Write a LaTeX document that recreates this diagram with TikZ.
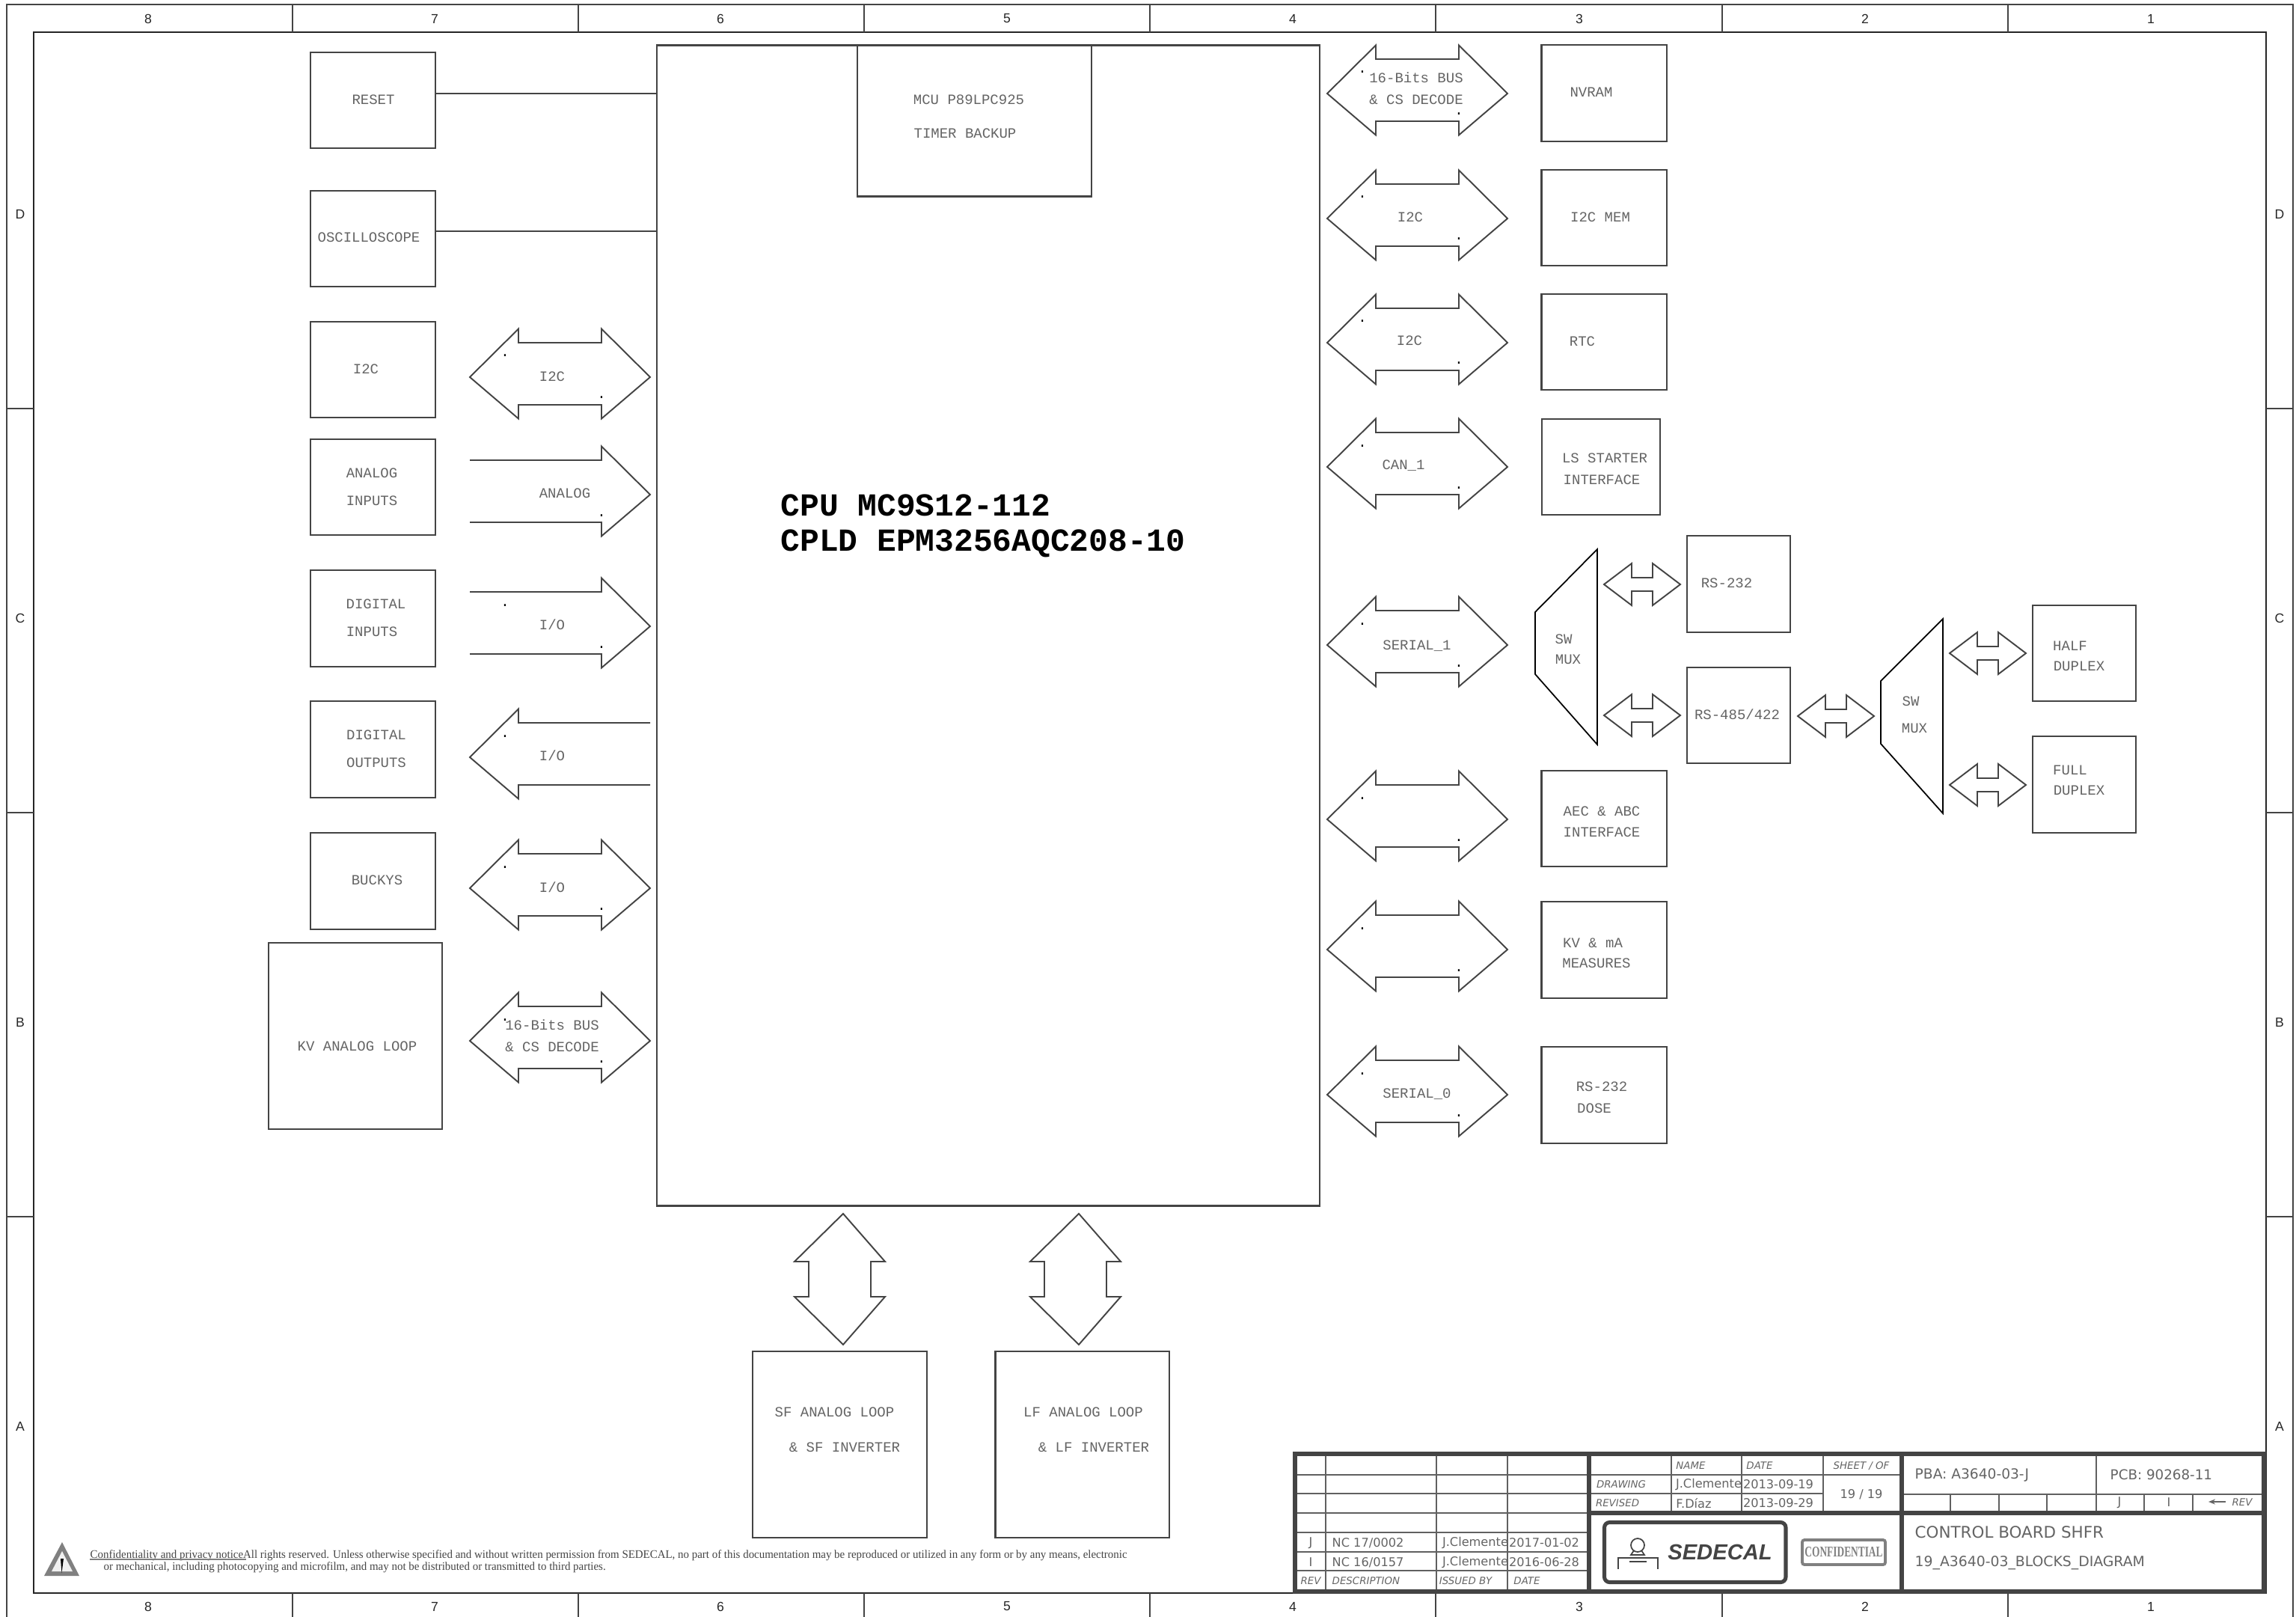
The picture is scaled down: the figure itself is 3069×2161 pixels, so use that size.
\documentclass[tikz,border=0pt]{standalone}
\usepackage{fontspec}
\setmainfont{Liberation Mono}
\newfontfamily\sheetfont{DejaVu Sans}
\newfontfamily\rimfont{Liberation Sans}
\newfontfamily\noticefont[FakeStretch=0.965]{Liberation Serif}
\newfontfamily\stampfont[FakeStretch=0.68]{Liberation Serif}
\usetikzlibrary{arrows.meta,positioning}
\definecolor{inkgray}{HTML}{444444}
\definecolor{txtgray}{HTML}{646464}
\definecolor{stampgray}{HTML}{808080}

% double arrows: name, centre x, centre y
\newcommand{\wideway}[3]{\coordinate (#1) at (#2,#3);
  \draw[busline] (#1) ++(-120.5,0) -- ++(65,-64.5) -- ++(0,18.5) -- ++(111,0) -- ++(0,-18.5) -- ++(65,64.5) -- ++(-65,55.5) -- ++(0,-18.5) -- ++(-111,0) -- ++(0,18.5) -- cycle;}
\newcommand{\smallway}[3]{\coordinate (#1) at (#2,#3);
  \draw[busline] (#1) ++(-51,0) -- ++(37,-28) -- ++(0,19) -- ++(28,0) -- ++(0,-19) -- ++(37,28) -- ++(-37,28) -- ++(0,-19) -- ++(-28,0) -- ++(0,19) -- cycle;}
\newcommand{\tallway}[3]{\coordinate (#1) at (#2,#3);
  \draw[busline] (#1) ++(0,-88) -- ++(56,64) -- ++(-19,0) -- ++(0,47) -- ++(19,0) -- ++(-56,64) -- ++(-65,-64) -- ++(19,0) -- ++(0,-47) -- ++(-19,0) -- cycle;}
% the two stray points inside a wide arrow
\newcommand{\updot}[1]{\node[strayd] (#1-u) at ([shift={(-73.5,-27)}]#1) {.};}
\newcommand{\downdot}[1]{\node[strayd] (#1-d) at ([shift={(55.5,29)}]#1) {.};}

\begin{document}
\begin{tikzpicture}[x=0.01cm, y=-0.01cm,
  blockbox/.style={draw=inkgray, line width=0.6pt, inner sep=0pt, minimum width=1.67cm, minimum height=1.285cm},
  loopbox/.style={blockbox, minimum width=2.32cm, minimum height=2.49cm},
  commbox/.style={blockbox, minimum width=1.38cm},
  busline/.style={draw=inkgray, line width=0.55pt, line join=miter},
  muxline/.style={draw=black, line width=0.5pt},
  wire/.style={draw=inkgray, line width=0.55pt},
  lbl/.style={text=txtgray, inner sep=0pt, font=\fontsize{5.4}{6}\selectfont},
  strayd/.style={text=black, inner sep=0pt, anchor=base, font=\fontsize{5.4}{6}\selectfont},
  cpulbl/.style={text=black, inner sep=0pt, anchor=west, font=\fontsize{12.2}{14}\selectfont\bfseries},
  rimtxt/.style={text=black!85, inner sep=0pt, font=\rimfont\fontsize{5}{5}\selectfont},
  thick block/.style={draw=inkgray, line width=1.55pt},
  thin block/.style={draw=inkgray!85, line width=0.65pt},
  sheettxt/.style={text=txtgray, inner sep=0pt, font=\sheetfont\fontsize{4.6}{5}\selectfont},
  sheetitl/.style={text=txtgray, inner sep=0pt, font=\sheetfont\itshape\fontsize{3.8}{5}\selectfont},
  notice/.style={text=inkgray, inner sep=0pt, anchor=base west, font=\noticefont\fontsize{4.4}{5}\selectfont}]
  \useasboundingbox (0,0) rectangle (3069,2161);

  % sheet frame and rim marks
  \draw[draw=inkgray, line width=0.55pt] (9,2161) -- (9,6) -- (3065,6) -- (3065,2161);
  \draw[draw=black!85, line width=0.55pt] (45,43) rectangle (3029,2129);
  \draw[wire] (391,6) -- (391,43); \draw[wire] (773,6) -- (773,43); \draw[wire] (1155,6) -- (1155,43); \draw[wire] (1537,6) -- (1537,43);
  \draw[wire] (1919,6) -- (1919,43); \draw[wire] (2302,6) -- (2302,43); \draw[wire] (2684,6) -- (2684,43);
  \draw[wire] (391,2129) -- (391,2161); \draw[wire] (773,2129) -- (773,2161); \draw[wire] (1155,2129) -- (1155,2161); \draw[wire] (1537,2129) -- (1537,2161);
  \draw[wire] (1919,2129) -- (1919,2161); \draw[wire] (2302,2129) -- (2302,2161); \draw[wire] (2684,2129) -- (2684,2161);
  \draw[wire] (9,546) -- (45,546); \draw[wire] (9,1086) -- (45,1086); \draw[wire] (9,1626) -- (45,1626);
  \draw[wire] (3029,546) -- (3065,546); \draw[wire] (3029,1086) -- (3065,1086); \draw[wire] (3029,1626) -- (3065,1626);
  \node[rimtxt] (top8) at (198,25) {8}; \node[rimtxt] (top7) at (581,25) {7}; \node[rimtxt] (top6) at (963,25) {6}; \node[rimtxt] (top5) at (1346,25) {5};
  \node[rimtxt] (top4) at (1728,25) {4}; \node[rimtxt] (top3) at (2111,25) {3}; \node[rimtxt] (top2) at (2493,25) {2}; \node[rimtxt] (top1) at (2875,25) {1};
  \node[rimtxt] (bot8) at (198,2147) {8}; \node[rimtxt] (bot7) at (581,2147) {7}; \node[rimtxt] (bot6) at (963,2147) {6}; \node[rimtxt] (bot5) at (1346,2147) {5};
  \node[rimtxt] (bot4) at (1728,2147) {4}; \node[rimtxt] (bot3) at (2111,2147) {3}; \node[rimtxt] (bot2) at (2493,2147) {2}; \node[rimtxt] (bot1) at (2875,2147) {1};
  \node[rimtxt] (leftd) at (27,286) {D}; \node[rimtxt] (leftc) at (27,826) {C}; \node[rimtxt] (leftb) at (27,1366) {B}; \node[rimtxt] (lefta) at (27,1906) {A};
  \node[rimtxt] (rightd) at (3047,286) {D}; \node[rimtxt] (rightc) at (3047,826) {C}; \node[rimtxt] (rightb) at (3047,1366) {B}; \node[rimtxt] (righta) at (3047,1906) {A};

  % CPU and MCU
  \node[blockbox, minimum width=8.86cm, minimum height=15.5cm] (cpu) at (1321,836) {};
  \node[blockbox, minimum width=3.13cm, minimum height=2.01cm] (mcu) at (1302.5,162) {};
  \node[lbl] (mcua) at (1295,133) {MCU P89LPC925};
  \node[lbl] (mcub) at (1290,178) {TIMER BACKUP};
  \node[cpulbl] (cpua) at (1043,675) {CPU MC9S12-112};
  \node[cpulbl] (cpub) at (1043,726) {CPLD EPM3256AQC208-10};

  % left column
  \node[blockbox] (reset) at (498.5,134) {}; \node[lbl] (resetl) at (499,133) {RESET};
  \node[blockbox] (scope) at (498.5,319) {}; \node[lbl] (scopel) at (493,317) {OSCILLOSCOPE};
  \draw[wire] ([yshift=0.09cm]reset.east) -- ([yshift=0.09cm]reset.east -| cpu.west);
  \draw[wire] ([yshift=0.10cm]scope.east) -- ([yshift=0.10cm]scope.east -| cpu.west);
  \node[blockbox] (i2cin) at (498.5,494) {}; \node[lbl] (i2cinl) at (489,493) {I2C};
  \node[blockbox] (anain) at (498.5,651) {}; \node[lbl] (anaina) at (497,632) {ANALOG}; \node[lbl] (anainb) at (497,669) {INPUTS};
  \node[blockbox] (digin) at (498.5,826.5) {}; \node[lbl] (digina) at (502.5,807) {DIGITAL}; \node[lbl] (diginb) at (497,844) {INPUTS};
  \node[blockbox] (digout) at (498.5,1001.5) {}; \node[lbl] (digouta) at (503,982) {DIGITAL}; \node[lbl] (digoutb) at (503,1019) {OUTPUTS};
  \node[blockbox] (buckys) at (498.5,1177.5) {}; \node[lbl] (buckysl) at (504,1176) {BUCKYS};
  \node[loopbox] (kvloop) at (475,1384.5) {}; \node[lbl] (kvloopl) at (477.5,1398) {KV ANALOG LOOP};

  \wideway{wi2c}{748.5}{504} \updot{wi2c} \downdot{wi2c}
  \node[lbl] (wi2cl) at (738,503) {I2C};
  \coordinate (wana) at (748.5,661);
  \draw[busline] (wana) ++(-120.5,-46) -- ++(176,0) -- ++(0,-18.5) -- ++(65,64.5) -- ++(-65,55.5) -- ++(0,-18.5) -- ++(-176,0);
  \downdot{wana}
  \node[lbl] (wanal) at (755,659) {ANALOG};
  \coordinate (wdin) at (748.5,837);
  \draw[busline] (wdin) ++(-120.5,-46) -- ++(176,0) -- ++(0,-18.5) -- ++(65,64.5) -- ++(-65,55.5) -- ++(0,-18.5) -- ++(-176,0);
  \updot{wdin} \downdot{wdin}
  \node[lbl] (wdinl) at (738,835) {I/O};
  \coordinate (wdout) at (748.5,1012);
  \draw[busline] (wdout) ++(120.5,-46) -- ++(-176,0) -- ++(0,-18.5) -- ++(-65,64.5) -- ++(65,55.5) -- ++(0,-18.5) -- ++(176,0);
  \updot{wdout}
  \node[lbl] (wdoutl) at (738,1010) {I/O};
  \wideway{wbuck}{748.5}{1187} \updot{wbuck} \downdot{wbuck}
  \node[lbl] (wbuckl) at (738,1186) {I/O};
  \wideway{wbusl}{748.5}{1391} \updot{wbusl} \downdot{wbusl}
  \node[lbl] (wbusla) at (738,1370) {16-Bits BUS};
  \node[lbl] (wbuslb) at (738,1399) {\& CS DECODE};

  % right column
  \wideway{wbusr}{1894.5}{125} \updot{wbusr} \downdot{wbusr}
  \node[lbl] (wbusra) at (1893,104) {16-Bits BUS}; \node[lbl] (wbusrb) at (1893,133) {\& CS DECODE};
  \wideway{wmem}{1894.5}{292} \updot{wmem} \downdot{wmem} \node[lbl] (wmeml) at (1885,290) {I2C};
  \wideway{wrtc}{1894.5}{458} \updot{wrtc} \downdot{wrtc} \node[lbl] (wrtcl) at (1884,455) {I2C};
  \wideway{wcan}{1894.5}{624} \updot{wcan} \downdot{wcan} \node[lbl] (wcanl) at (1876,622) {CAN\_1};
  \wideway{wsera}{1894.5}{862} \updot{wsera} \downdot{wsera} \node[lbl] (wseral) at (1894,863) {SERIAL\_1};
  \wideway{waec}{1894.5}{1095} \updot{waec} \downdot{waec}
  \wideway{wkv}{1894.5}{1269} \updot{wkv} \downdot{wkv}
  \wideway{wserb}{1894.5}{1463} \updot{wserb} \downdot{wserb} \node[lbl] (wserbl) at (1894,1462) {SERIAL\_0};

  \node[blockbox] (nvram) at (2144,124.5) {}; \node[lbl] (nvraml) at (2127,123) {NVRAM};
  \node[blockbox] (i2cmem) at (2144,291) {}; \node[lbl] (i2cmeml) at (2139,290) {I2C MEM};
  \node[blockbox] (rtc) at (2144,457) {}; \node[lbl] (rtcl) at (2115,456) {RTC};
  \node[blockbox, minimum width=1.58cm] (starter) at (2140,624) {}; \node[lbl] (startera) at (2145,612) {LS STARTER}; \node[lbl] (starterb) at (2141,641) {INTERFACE};
  \node[blockbox] (aec) at (2144,1094) {}; \node[lbl] (aeca) at (2141,1084) {AEC \& ABC}; \node[lbl] (aecb) at (2141,1112) {INTERFACE};
  \node[blockbox] (kvma) at (2144,1269.5) {}; \node[lbl] (kvmaa) at (2129,1260) {KV \& mA}; \node[lbl] (kvmab) at (2134,1287) {MEASURES};
  \node[blockbox] (dose) at (2144,1463.5) {}; \node[lbl] (dosea) at (2141,1452) {RS-232}; \node[lbl] (doseb) at (2131,1481) {DOSE};

  % serial switches
  \draw[muxline] (2135,734) -- (2052,818) -- (2052,901) -- (2135,995) -- cycle;
  \node[lbl] (muxaa) at (2090,854) {SW}; \node[lbl] (muxab) at (2096,881) {MUX};
  \draw[muxline] (2597,827) -- (2514,910) -- (2514,994) -- (2597,1087) -- cycle;
  \node[lbl] (muxba) at (2554,937) {SW}; \node[lbl] (muxbb) at (2559,973) {MUX};
  \smallway{sa}{2195}{781} \smallway{sb}{2195}{956} \smallway{sc}{2454}{957} \smallway{sd}{2657}{873} \smallway{se}{2657}{1049}
  \node[commbox] (rsa) at (2324,780.5) {}; \node[lbl] (rsal) at (2308,779) {RS-232};
  \node[commbox] (rsb) at (2324,956) {}; \node[lbl] (rsbl) at (2322,955) {RS-485/422};
  \node[commbox] (half) at (2786,873) {}; \node[lbl] (halfa) at (2767,863) {HALF}; \node[lbl] (halfb) at (2779,890) {DUPLEX};
  \node[commbox] (full) at (2786,1048.5) {}; \node[lbl] (fulla) at (2767,1029) {FULL}; \node[lbl] (fullb) at (2779,1056) {DUPLEX};

  % bottom loops
  \tallway{va}{1127}{1710} \tallway{vb}{1442}{1710}
  \node[loopbox] (sfloop) at (1122.5,1930.5) {}; \node[lbl] (sfa) at (1115.5,1887) {SF ANALOG LOOP}; \node[lbl] (sfb) at (1129,1934) {\& SF INVERTER};
  \node[loopbox] (lfloop) at (1446.5,1930.5) {}; \node[lbl] (lfa) at (1448,1887) {LF ANALOG LOOP}; \node[lbl] (lfb) at (1462,1934) {\& LF INVERTER};

  % privacy note
  \fill[stampgray] (83,2061) -- (59,2106) -- (106,2106) -- cycle;
  \fill[black!6] (83,2073) -- (69,2100) -- (97,2100) -- cycle;
  \fill[black] (81,2083) -- (85,2083) -- (82.5,2102) -- cycle;
  \node[notice] (notea) at (120,2082) {Confidentiality and privacy noticeAll rights reserved. Unless otherwise specified and without written permission from SEDECAL, no part of this documentation may be reproduced or utilized in any form or by any means, electronic};
  \node[notice] (noteb) at (138,2098) {or mechanical, including photocopying and microfilm, and may not be distributed or transmitted to third parties.};
  \draw[stampgray, line width=0.5pt] (120,2084) -- (329,2084);

  % title block
  \draw[thin block] (1731,1971) -- (2124,1971); \draw[thin block] (1731,1996) -- (2124,1996); \draw[thin block] (1731,2022) -- (2124,2022);
  \draw[thin block] (1731,2048) -- (2124,2048); \draw[thin block] (1731,2074) -- (2124,2074); \draw[thin block] (1731,2099) -- (2124,2099);
  \draw[thin block] (1772,1943) -- (1772,2127); \draw[thin block] (1920,1943) -- (1920,2127); \draw[thin block] (2015,1943) -- (2015,2127);
  \draw[thin block] (2124,1971) -- (2437,1971); \draw[thin block] (2124,1996) -- (2437,1996);
  \draw[thin block] (2234,1943) -- (2234,2022); \draw[thin block] (2328,1943) -- (2328,2022);
  \draw[thin block] (2437,1971) -- (2542,1971); \draw[thin block] (2437,1943) -- (2437,2022);
  \draw[thin block] (2542,1997) -- (3026,1997); \draw[thin block] (2802,1943) -- (2802,2022);
  \draw[thin block] (2607,1997) -- (2607,2022); \draw[thin block] (2672,1997) -- (2672,2022); \draw[thin block] (2736,1997) -- (2736,2022);
  \draw[thin block] (2866,1997) -- (2866,2022); \draw[thin block] (2931,1997) -- (2931,2022);
  \draw[thick block] (1731,1943) rectangle (3026,2127);
  \draw[thick block] (2124,1943) -- (2124,2127); \draw[thick block] (2542,1943) -- (2542,2127); \draw[thick block] (2124,2022) -- (3026,2022);

  \node[sheettxt] (revj) at (1752,2062) {J}; \node[sheettxt] (revi) at (1752,2088) {I}; \node[sheetitl] (revh) at (1752,2113) {REV};
  \node[sheettxt, anchor=west] (ncj) at (1780,2062) {NC 17/0002}; \node[sheettxt, anchor=west] (nci) at (1780,2088) {NC 16/0157}; \node[sheetitl, anchor=west] (desc) at (1780,2113) {DESCRIPTION};
  \node[sheettxt] (byj) at (1972,2062) {J.Clemente}; \node[sheettxt] (byi) at (1972,2088) {J.Clemente}; \node[sheetitl] (byh) at (1959,2113) {ISSUED BY};
  \node[sheettxt] (datej) at (2064,2062) {2017-01-02}; \node[sheettxt] (datei) at (2064,2088) {2016-06-28}; \node[sheetitl] (dateh) at (2041,2113) {DATE};
  \node[sheetitl] (nameh) at (2260,1959) {NAME}; \node[sheetitl] (dateg) at (2352,1959) {DATE}; \node[sheetitl] (sheeth) at (2488,1959) {SHEET / OF};
  \node[sheetitl] (drawh) at (2167,1984) {DRAWING}; \node[sheetitl] (revdh) at (2162,2009) {REVISED};
  \node[sheettxt] (drawn) at (2284,1984) {J.Clemente}; \node[sheettxt] (drawd) at (2377,1984) {2013-09-19};
  \node[sheettxt] (revdn) at (2264,2009) {F.Díaz}; \node[sheettxt] (revdd) at (2377,2009) {2013-09-29};
  \node[sheettxt] (sheetn) at (2488,1997) {19 / 19};
  \node[sheettxt, anchor=west, font=\sheetfont\fontsize{5.3}{6}\selectfont] (pba) at (2559,1971) {PBA: A3640-03-J};
  \node[sheettxt, anchor=west, font=\sheetfont\fontsize{5.2}{6}\selectfont] (pcb) at (2820,1971) {PCB: 90268-11};
  \node[sheettxt] (cellj) at (2833,2008) {J}; \node[sheettxt] (celli) at (2899,2008) {I};
  \coordinate (revfrom) at (2975,2007); \coordinate (revto) at (2952,2007);
  \draw[-{Stealth[open, length=0.09cm, width=0.07cm]}, draw=txtgray, line width=0.5pt] (revfrom) -- (revto);
  \node[sheetitl] (revtag) at (2997,2008) {REV};
  \node[sheettxt, anchor=west, font=\sheetfont\fontsize{6.1}{7}\selectfont] (boardname) at (2559,2048) {CONTROL BOARD SHFR};
  \node[sheettxt, anchor=west, font=\sheetfont\fontsize{5.35}{6}\selectfont] (sheetname) at (2559,2089) {19\_A3640-03\_BLOCKS\_DIAGRAM};

  % logo and stamp
  \draw[inkgray, line width=1.45pt, rounded corners=0.07cm] (2144.5,2034.5) rectangle (2387,2114.5);
  \draw[inkgray, line width=0.5pt] (2189,2065) circle (9);
  \draw[inkgray, line width=0.5pt] (2184,2072) -- (2180,2078) -- (2198,2078) -- (2194,2072);
  \draw[inkgray, line width=0.5pt] (2163,2097) -- (2163,2082) -- (2216,2082) -- (2216,2097);
  \draw[inkgray, line width=0.6pt] (2178,2087) -- (2201,2087);
  \node[inner sep=0pt, text=inkgray, font=\rimfont\bfseries\itshape\fontsize{8.3}{9}\selectfont] (logotxt) at (2299,2074) {SEDECAL};
  \node[draw=stampgray, line width=1.1pt, rounded corners=0.03cm, inner sep=0pt, minimum width=1.11cm, minimum height=0.33cm, text=stampgray, font=\stampfont\bfseries\fontsize{5.6}{6}\selectfont] (stamp) at (2464.5,2074.5) {CONFIDENTIAL};
\end{tikzpicture}
\end{document}
